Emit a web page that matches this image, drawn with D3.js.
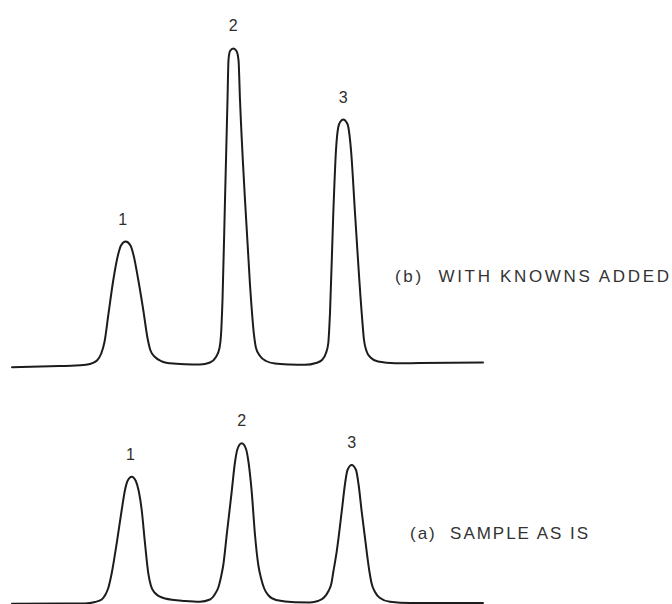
<!DOCTYPE html>
<html>
<head>
<meta charset="utf-8">
<script src="https://cdn.jsdelivr.net/npm/d3@7"></script>
<style>
  body { margin: 0; background: #fff; }
  svg { display: block; }
</style>
</head>
<body>
<div id="chromatogram"></div>
<script>
// retention time (min) / detector response
var traceB = [
  [0.00, -1.10], [3.80, -0.77], [6.80, -0.43], [7.80, 0.00], [8.50, 1.17],
  [8.90, 3.33], [9.25, 7.33], [9.63, 16.33], [10.13, 28.00], [10.60, 36.33],
  [10.90, 39.50], [11.37, 40.83], [11.85, 39.50], [12.15, 36.33], [12.63, 28.00],
  [13.15, 17.50], [13.55, 8.67], [13.85, 4.50], [14.30, 2.33], [15.00, 0.83],
  [15.80, 0.23], [17.30, -0.10], [18.80, -0.17], [19.80, 0.50], [20.40, 2.33],
  [20.75, 5.33], [20.90, 9.67], [21.05, 21.33], [21.30, 54.67], [21.55, 88.00],
  [21.65, 101.33], [21.80, 104.33], [22.13, 105.17], [22.45, 104.33], [22.65, 101.33],
  [22.80, 88.00], [23.30, 54.67], [23.80, 26.33], [24.20, 9.67], [24.40, 5.33],
  [24.80, 2.67], [25.40, 1.00], [26.30, 0.17], [27.80, -0.17], [29.30, -0.27],
  [30.40, 0.33], [31.00, 1.33], [31.40, 3.67], [31.63, 7.00], [31.80, 17.00],
  [32.13, 50.33], [32.40, 71.33], [32.63, 79.00], [32.85, 80.83], [33.13, 81.50],
  [33.40, 80.83], [33.63, 79.00], [33.90, 71.33], [34.30, 50.33], [34.97, 17.00],
  [35.20, 8.00], [35.45, 4.33], [35.85, 2.17], [36.60, 0.83], [38.30, 0.23],
  [40.80, 0.33], [47.10, 0.50]
];

var traceA = [
  [0.00, -0.27], [4.80, -0.20], [7.30, -0.17], [8.30, 0.33], [8.97, 1.17],
  [9.35, 2.83], [9.63, 5.00], [9.97, 9.90], [10.47, 19.90], [10.97, 31.00],
  [11.30, 37.67], [11.55, 40.67], [11.97, 42.10], [12.38, 40.67], [12.65, 37.67],
  [12.97, 31.00], [13.30, 19.90], [13.63, 9.90], [13.90, 5.67], [14.30, 3.33],
  [15.30, 1.50], [17.30, 0.70], [18.80, 0.45], [19.80, 1.17], [20.30, 3.00],
  [20.65, 5.33], [20.90, 8.67], [21.13, 12.67], [21.47, 22.67], [21.97, 37.10],
  [22.30, 47.00], [22.55, 51.33], [22.97, 53.23], [23.40, 51.33], [23.65, 47.00],
  [23.97, 37.10], [24.30, 22.67], [24.63, 12.67], [24.90, 8.33], [25.20, 5.00],
  [25.60, 2.67], [26.40, 1.00], [28.30, 0.25], [29.80, 0.20], [30.60, 0.67],
  [31.20, 1.83], [31.65, 4.00], [31.95, 6.67], [32.13, 10.33], [32.47, 17.10],
  [32.97, 30.43], [33.30, 39.67], [33.55, 44.33], [33.97, 46.00], [34.40, 44.33],
  [34.65, 39.67], [34.97, 30.43], [35.47, 17.10], [35.75, 10.33], [35.95, 6.67],
  [36.30, 3.67], [36.80, 1.67], [37.80, 0.40], [39.80, 0.00], [47.10, 0.00]
];

var peakNames = ["1", "2", "3"];
var apexTimeB = [11.07, 22.13, 33.13];
var apexHeightB = [40.83, 105.17, 81.50];
var apexTimeA = [11.85, 22.97, 33.97];
var apexHeightA = [42.10, 53.23, 46.00];

var traceLabels = ["(b)  WITH KNOWNS ADDED", "(a)  SAMPLE AS IS"];
var labelTimes = [38.3, 39.8];
var labelResponses = [29.1, 23.2];

whenDocumentLoaded(function() {
  var width = 672,
    height = 604;

  var svg = d3.select("#chromatogram")
    .append("svg")
    .attr("width", width)
    .attr("height", height);

  // same time axis for both runs, same detector sensitivity
  var x = d3.scaleLinear().domain([0, 47.1]).range([12, 483]);
  var yB = d3.scaleLinear().domain([0, 100]).range([364, 64]);
  var yA = d3.scaleLinear().domain([0, 100]).range([603, 303]);

  var panels = [
    { trace: traceB, y: yB, times: apexTimeB, heights: apexHeightB },
    { trace: traceA, y: yA, times: apexTimeA, heights: apexHeightA }
  ];

  panels.forEach(function(p, i) {
    var line = d3.line()
      .x(function(d) { return x(d[0]); })
      .y(function(d) { return p.y(d[1]); })
      .curve(d3.curveMonotoneX);

    svg.append("path")
      .datum(p.trace)
      .attr("d", line)
      .attr("fill", "none")
      .attr("stroke", "#1c1c1c")
      .attr("stroke-width", 2)
      .attr("stroke-linejoin", "round")
      .attr("stroke-linecap", "round");

    // peak numbers above each apex
    svg.selectAll(".peak" + i)
      .data(peakNames)
      .enter()
      .append("text")
      .attr("class", "peak" + i)
      .attr("x", function(d, k) { return x(p.times[k]); })
      .attr("y", function(d, k) { return p.y(p.heights[k]) - 17; })
      .attr("text-anchor", "middle")
      .style("font-family", "'Liberation Sans', Arial, sans-serif")
      .style("font-size", "16px")
      .style("fill", "#2e2e2e")
      .text(function(d) { return d; });

    svg.append("text")
      .attr("x", x(labelTimes[i]))
      .attr("y", p.y(labelResponses[i]))
      .attr("dominant-baseline", "central")
      .attr("textLength", i === 0 ? 274 : 178)
      .attr("lengthAdjust", "spacing")
      .style("white-space", "pre")
      .style("font-family", "'Liberation Sans', Arial, sans-serif")
      .style("font-size", "17px")
      .style("fill", "#333")
      .text(traceLabels[i]);
  });
});

function whenDocumentLoaded(action) {
  if (document.readyState === "loading") {
    document.addEventListener("DOMContentLoaded", action);
  } else {
    action();
  }
}
</script>
</body>
</html>
